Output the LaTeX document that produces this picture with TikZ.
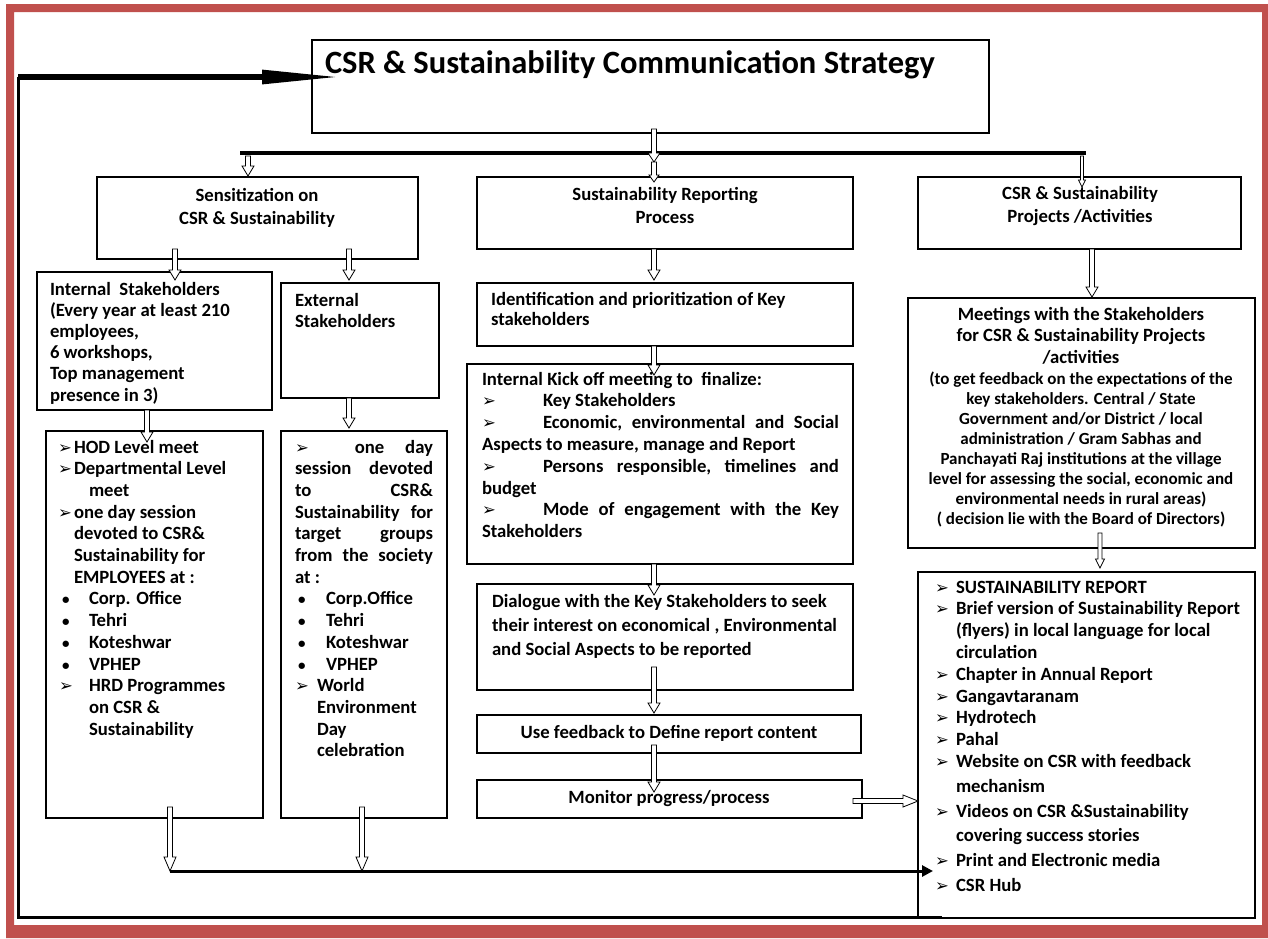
\documentclass[tikz,border=0pt]{standalone}
\usepackage{fontspec}
\setmainfont{Carlito}
\newfontfamily\dvfont{DejaVu Sans}
\usetikzlibrary{arrows.meta,calc}
\definecolor{framered}{HTML}{C0504D}
\newcommand{\arr}{{\dvfont\bfseries\fontsize{16.5}{12}\selectfont ➢}}
\newcommand{\bul}{{\fontsize{15}{12}\selectfont •}}
\newcommand{\jline}[2]{\makebox[#1][l]{#2}}
\tikzset{
  box/.style={draw=black, line width=1.2pt, anchor=north west, inner sep=0pt, outer sep=0pt},
  txt/.style={inner sep=0pt, outer sep=0pt, anchor=base west, align=flush left, text width=#1,
    font=\bfseries\fontsize{18.7}{21.8}\selectfont},
  txt/.default=380pt,
  ctxt/.style={inner sep=0pt, outer sep=0pt, anchor=base, align=flush center, text width=#1,
    font=\bfseries\fontsize{18.7}{23}\selectfont},
  ctxt/.default=340pt,
  hollow/.style={draw=black, line width=0.8pt, fill=white, line join=miter},
}
\newcommand{\bx}[5]{\node[box, minimum width={#4-#2}, minimum height={#5-#3}] (#1) at (#2,#3) {};}
% vertical hollow arrow: x, from, to, start shift (down), end shift (down), shaft half, head half, head length
\newcommand{\hva}[8]{\draw[hollow] let \p1=($(#1,0 |- #2)+(0,#4)$), \p2=($(#1,0 |- #3)+(0,#5)$) in
  ({\x1-#6pt},\y1) -- ({\x1-#6pt},{\y2+#8pt}) -- ({\x1-#7pt},{\y2+#8pt}) -- (\x1,\y2)
  -- ({\x1+#7pt},{\y2+#8pt}) -- ({\x1+#6pt},{\y2+#8pt}) -- ({\x1+#6pt},\y1) -- cycle;}
\begin{document}
\begin{tikzpicture}[x=1pt,y=-1pt]
\useasboundingbox (0,0) rectangle (1268,938);
\fill[white] (0,0) rectangle (1268,938);
% red frame
\fill[framered, even odd rule] (6,4) rectangle (1268,938) (14,12) rectangle (1262,925);

% boxes
\bx{title}{312}{40}{989}{133}
\bx{sens}{97}{177}{418}{259}
\bx{rep}{477}{177}{853}{249}
\bx{proj}{918}{177}{1241}{249}
\bx{int}{37}{272}{272}{410}
\bx{ext}{281}{283}{439}{398}
\bx{ident}{477}{283}{853}{346}
\bx{meet}{908}{298}{1255}{548}
\bx{hod}{46}{431}{263}{818}
\bx{extl}{281}{431}{447}{818}
\bx{kick}{467}{364}{853}{564}
\bx{dial}{477}{584}{853}{690}
\bx{use}{477}{715}{861}{753}
\bx{mon}{477}{780}{862}{818}
\bx{rlist}{918}{572}{1255}{918}

% texts
\node[txt=700pt, font=\bfseries\fontsize{32.5}{36}\selectfont] (titleT) at (325,73) {CSR \& Sustainability Communication Strategy};
\node[ctxt] (sensT) at (257,201) {Sensitization on\\CSR \& Sustainability};
\node[ctxt] (repT) at (665,200) {Sustainability Reporting\\Process};
\node[ctxt] (projT) at (1080,199) {CSR \& Sustainability\\Projects /Activities};
\node[txt=230pt, font=\bfseries\fontsize{18.7}{21.2}\selectfont] (intT) at (50,295)
  {Internal\ \ Stakeholders\\(Every year at least 210\\employees,\\6 workshops,\\Top management\\presence in 3)};
\node[txt=150pt, font=\bfseries\fontsize{18.7}{21}\selectfont] (extT) at (295,306) {External\\Stakeholders};
\node[txt, font=\bfseries\fontsize{18.7}{20.5}\selectfont] (identT) at (491,305)
  {Identification and prioritization of Key\\stakeholders};
\node[ctxt=345pt, font=\bfseries\fontsize{18.7}{21.5}\selectfont] (meetT) at (1081,320)
  {Meetings with the Stakeholders\\for CSR \& Sustainability Projects\\/activities};
\node[ctxt=345pt, font=\bfseries\fontsize{17}{20}\selectfont] (meetS) at (1081,384)
  {(to get feedback on the expectations of the\\key stakeholders. Central / State\\Government and/or District / local\\administration / Gram Sabhas and\\Panchayati Raj institutions at the village\\level for assessing the social, economic and\\environmental needs in rural areas)\\( decision lie with the Board of Directors)};
\node[txt=205pt, font=\bfseries\fontsize{18.7}{21.7}\selectfont] (hodT) at (58,453)
  {\makebox[16pt][l]{\arr}HOD Level meet\\
   \makebox[16pt][l]{\arr}Departmental Level\\
   \hspace*{31pt}meet\\
   \makebox[16pt][l]{\arr}one day session\\
   \hspace*{16pt}devoted to CSR\&\\
   \hspace*{16pt}Sustainability for\\
   \hspace*{16pt}EMPLOYEES at :\\
   \makebox[31pt][l]{\hspace*{4pt}\bul}Corp. Office\\
   \makebox[31pt][l]{\hspace*{4pt}\bul}Tehri\\
   \makebox[31pt][l]{\hspace*{4pt}\bul}Koteshwar\\
   \makebox[31pt][l]{\hspace*{4pt}\bul}VPHEP\\
   \makebox[31pt][l]{\hspace*{1pt}\arr}HRD Programmes\\
   \hspace*{31pt}on CSR \&\\
   \hspace*{31pt}Sustainability};
\node[txt=140pt, font=\bfseries\fontsize{18.7}{21.7}\selectfont] (extlT) at (295,453)
  {\jline{138pt}{\arr\hspace{46pt}one\hfill day}\\
   \jline{138pt}{session\hfill devoted}\\
   \jline{138pt}{to\hfill CSR\&}\\
   \jline{138pt}{Sustainability\hfill for}\\
   \jline{138pt}{target\hfill groups}\\
   \jline{138pt}{from\hfill the\hfill society}\\
   at :\\
   \makebox[31pt][l]{\hspace*{3pt}\bul}Corp.Office\\
   \makebox[31pt][l]{\hspace*{3pt}\bul}Tehri\\
   \makebox[31pt][l]{\hspace*{3pt}\bul}Koteshwar\\
   \makebox[31pt][l]{\hspace*{3pt}\bul}VPHEP\\
   \makebox[22pt][l]{\arr}World\\
   \hspace*{22pt}Environment\\
   \hspace*{22pt}Day\\
   \hspace*{22pt}celebration};
\node[txt=360pt, font=\bfseries\fontsize{18.7}{21.8}\selectfont] (kickT) at (482,385)
  {Internal Kick off meeting to\ \ finalize:\\
   \makebox[61pt][l]{\arr}Key Stakeholders\\
   \jline{357pt}{\makebox[61pt][l]{\arr}Economic,\hfill environmental\hfill and\hfill Social}\\
   Aspects to measure, manage and Report\\
   \jline{357pt}{\makebox[61pt][l]{\arr}Persons\hfill responsible,\hfill timelines\hfill and}\\
   budget\\
   \jline{357pt}{\makebox[61pt][l]{\arr}Mode\hfill of\hfill engagement\hfill with\hfill the\hfill Key}\\
   Stakeholders};
\node[txt, font=\bfseries\fontsize{18.7}{24}\selectfont] (dialT) at (492,607)
  {Dialogue with the Key Stakeholders to seek\\their interest on economical , Environmental\\and Social Aspects to be reported};
\node[ctxt=380pt] (useT) at (669,738) {Use feedback to Define report content};
\node[ctxt=380pt] (monT) at (669,803) {Monitor progress/process};
\node[txt=320pt, font=\bfseries\fontsize{18.7}{21.8}\selectfont] (rlistT) at (935,593)
  {\makebox[21pt][l]{\arr}SUSTAINABILITY REPORT\\
   \makebox[21pt][l]{\arr}Brief version of Sustainability Report\\
   \hspace*{21pt}(flyers) in local language for local\\
   \hspace*{21pt}circulation\\
   \makebox[21pt][l]{\arr}Chapter in Annual Report\\
   \makebox[21pt][l]{\arr}Gangavtaranam\\
   \makebox[21pt][l]{\arr}Hydrotech\\
   \makebox[21pt][l]{\arr}Pahal\\
   \makebox[21pt][l]{\arr}Website on CSR with feedback\\[3pt]
   \hspace*{21pt}mechanism\\[3pt]
   \makebox[21pt][l]{\arr}Videos on CSR \&Sustainability\\[3pt]
   \hspace*{21pt}covering success stories\\[3pt]
   \makebox[21pt][l]{\arr}Print and Electronic media\\[3pt]
   \makebox[21pt][l]{\arr}CSR Hub};

% distribution bar and arrows from the title
\coordinate (barL) at (240,153);
\coordinate (barR) at (1086,153);
\draw[line width=4.5pt] (barL) -- (barR);
\hva{654}{title.south}{barL}{-4}{9}{2.5}{6}{9}
\hva{654}{barL}{rep.north}{9}{5}{2.5}{5}{7}
\hva{248}{barL}{sens.north}{3}{-1}{2.5}{6}{10}
\hva{1082}{barR}{proj.north}{3}{10}{1.5}{3.5}{7}

% vertical hollow arrows
\hva{175}{sens.south}{int.north}{-10}{8}{2.5}{6}{10}
\hva{349}{sens.south}{ext.north}{-10}{-3}{2.5}{6}{10}
\hva{147}{int.south}{hod.north}{0}{11}{2.5}{6}{10}
\hva{349}{ext.south}{extl.north}{0}{-3}{2.5}{6}{10}
\hva{654}{rep.south}{ident.north}{0}{-3}{2.5}{6}{10}
\hva{654}{ident.south}{kick.north}{0}{11}{2.5}{6}{10}
\hva{654}{kick.south}{dial.north}{0}{11}{2.5}{6}{10}
\hva{654}{dial.south}{use.north}{-23}{-2}{2.5}{6}{10}
\hva{654}{use.south}{mon.north}{-8}{12}{2.5}{6}{10}
\hva{1092}{proj.south}{meet.north}{0}{-1}{2.5}{6}{10}
\hva{1100}{meet.south}{rlist.north}{-15}{-4}{2}{4.5}{9}

% from monitor to the right list
\draw[hollow] let \p1=($(mon.east)+(-9,2)$), \p2=($(rlist.west |- mon.east)+(0,2)$) in
  (\x1,{\y1+2.5pt}) -- ({\x2-15pt},{\y1+2.5pt}) -- ({\x2-15pt},{\y1+6pt}) -- (\x2,\y1)
  -- ({\x2-15pt},{\y1-6pt}) -- ({\x2-15pt},{\y1-2.5pt}) -- (\x1,{\y1-2.5pt}) -- cycle;

% bottom collection line
\coordinate (bj) at (170,871);
\hva{170}{hod.south}{bj}{-11}{0}{2.5}{6}{14}
\hva{362}{extl.south}{bj}{-11}{0}{2.5}{6}{14}
\draw[line width=3pt, -{Triangle[length=11pt,width=11pt]}] (bj) -- ($(rlist.west |- bj)+(15,0)$);

% feedback loop
\coordinate (lc) at (18,77);
\draw[line width=3pt] ($(rlist.south west)+(24,-1)$) -| (lc);
\draw[line width=6pt, -{Triangle[length=81pt,width=13pt]}] (lc) -- ($(title.west |- lc)+(31,0)$);
\end{tikzpicture}
\end{document}
